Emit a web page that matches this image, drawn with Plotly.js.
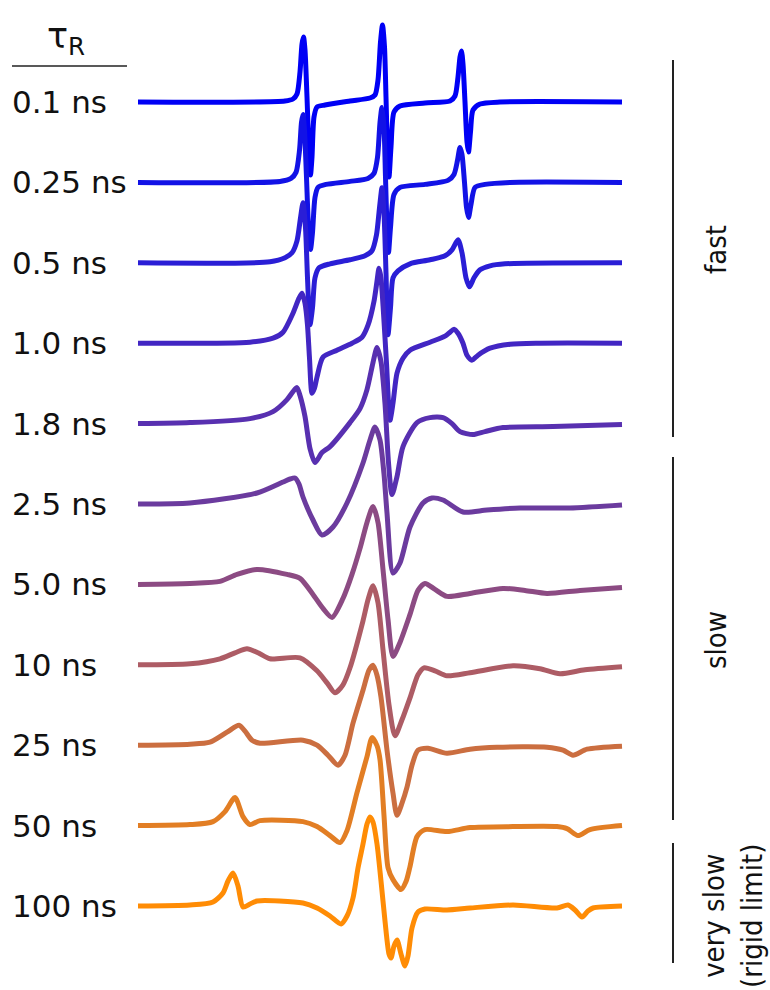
<!DOCTYPE html>
<html>
<head>
<meta charset="utf-8">
<script src="https://cdn.plot.ly/plotly-3.0.1.min.js"></script>
<style>html,body{margin:0;padding:0;background:#fff;}#chart{width:770px;height:990px;}</style>
</head>
<body>
<div id="chart"></div>
<script>
// Rotational correlation times (labels) and line colours
const labels = ["0.1 ns","0.25 ns","0.5 ns","1.0 ns","1.8 ns","2.5 ns","5.0 ns","10 ns","25 ns","50 ns","100 ns"];
const colors = ["#0000F5","#1212E6","#2A1ED6","#4226C3","#5830B0","#6B3B9E","#8C4B83","#AD5C65","#CB6E40","#E27E24","#FF8C05"];

// Field positions (a.u.) and derivative signal (a.u.), one pair per spectrum
const field_0p1 = [138,285,293,297,300,302,303.5,305,307,309,310.5,312,314,317,325,350,370,375,378,380.5,382.5,384.5,386,387.5,389,391,394,400,425,450,455,458,460,461.5,463,465,467,468.5,470.5,473,480,500,622];
const sig_0p1   = [0,1,3,8,30,58,65,52,5,-50,-73,-55,-15,-5,-3,1,4,7,22,60,77,55,5,-50,-75,-45,-10,-4,-1,1,6,25,45,51,38,0,-40,-50,-30,-8,-2,0,0];

const field_0p25 = [138,280,291,296,299.5,301.5,303,304.5,306.5,308.5,310.5,312.5,315,318,326,350,368,374,377.5,380,382,384,385.5,387,388.5,390.5,394,400,425,448,454,457.5,460,462,464.5,466.5,468.5,471,475,485,510,622];
const sig_0p25   = [0,1,4,10,32,60,68,52,5,-45,-67,-50,-15,-5,-2,1,4,9,25,60,75,55,5,-45,-70,-45,-12,-5,-2,2,8,22,35,28,0,-25,-35,-22,-5,-2,0,0];

const field_0p5 = [138,270,285,292,297,300.5,303,305.5,307.5,310,312.5,315,319,330,350,365,372,376.5,379.5,382,384,386,388,390.5,393,398,410,430,445,452,458,462,466,469.5,474,480,490,505,622];
const sig_0p5   = [0,1,5,10,22,45,60,35,-15,-62,-45,-15,-5,-1,3,7,12,28,55,75,50,-10,-72,-45,-15,-8,-1,3,7,13,23,10,-15,-24,-15,-7,-3,-1,0];

const field_1p0 = [138,250,273,283,293,299,302,305,307.5,309.5,312,314.5,317,323,337,352,362,368,374,377,379,381,383.5,386.5,390,393,397,403,410,430,445,450,454,458,463,467,472,478,490,510,540,622];
const sig_1p0   = [0,1,5,11,30,45,50,40,18,-15,-50,-45,-34,-14,-7,0,6,18,42,62,75,65,30,-20,-77,-60,-30,-15,-7,1,7,11,14,10,0,-12,-17,-12,-5,-1,0,0];

const field_1p8 = [138,190,250,273,287,293,297,300,305,310,315,322,330,350,360,367,373,377,381,385,388.5,392,397,403,417,430,443,452,460,473,485,503,553,622];
const sig_1p8   = [0,1,5,12,24,32,36,28,7,-25,-39,-29,-23,1,15,34,61,76,62,20,-39,-71,-53,-23,1,6,6,0,-8,-11,-8,-4,-3,-1];

const field_2p5 = [138,190,257,283,290,295,299,303,313,322,333,347,363,370,375,380,384,387,393,400,410,423,432,443,463,487,520,570,622];
const sig_2p5   = [0,1,11,22,25,26,20,7,-16,-31,-23,1,41,64,77,64,30,-9,-69,-59,-23,1,6,4,-8,-6,-4,-4,-1];

const field_5p0 = [138,190,220,237,257,287,300,313,323,332,343,352,360,367,373,378,383,388,393,400,410,418,425,435,447,470,503,525,547,580,622];
const sig_5p0   = [0,1,3,10,15,10,6,-10,-24,-33,-14,10,36,62,78,62,15,-35,-72,-58,-30,-6,1,-5,-12,-9,-4,-6,-9,-6,-3];

const field_10 = [138,190,220,235,247,258,270,300,317,327,335,343,350,363,368,373,378,383,389,395,402,410,418,424,435,447,470,513,540,560,585,622];
const sig_10   = [0,1,6,12,16,12,6,7,-6,-18,-28,-20,-3,44,65,79,62,15,-40,-71,-55,-33,-10,-3,-6,-11,-8,-1,-4,-9,-5,-2];

const field_25 = [138,190,210,227,239,245,252,260,303,317,328,338,345,353,363,369,373,377,381,387,393,397,402,407,412,418,428,447,470,497,547,563,573,587,622];
const sig_25   = [0,1,3,13,20,14,5,2,5,0,-10,-20,-10,22,55,75,80,70,48,-5,-48,-70,-58,-42,-20,-5,-3,-8,-4,-2,-2,-5,-10,-4,-1];

const field_50 = [138,190,213,225,235,243,250,260,303,317,330,340,347,357,367,372,377,380,384,388,393,401,406,410,417,425,447,470,513,557,567,578,590,622];
const sig_50   = [0,1,4,14,28,9,1,5,4,-1,-10,-17,-5,33,69,88,80,66,10,-42,-54,-64,-56,-41,-11,-4,-6,-2,-1,-1,-3,-10,-4,0];

const field_100 = [138,190,213,223,228,233,238,243,250,257,303,317,330,341,347,353,358,363,367,370,373,377,381,385,389,391,394,397,401,405,408,412,418,425,447,470,513,557,568,575,582,588,593,622];
const sig_100   = [0,1,4,13,25,33,20,-1,2,5,3,-2,-10,-18,-10,8,38,62,82,89,84,62,25,-15,-48,-52,-40,-34,-48,-60,-50,-22,-6,-3,-4,-2,1,-2,1,-4,-11,-5,-2,0];

const fields  = [field_0p1, field_0p25, field_0p5, field_1p0, field_1p8, field_2p5, field_5p0, field_10, field_25, field_50, field_100];
const signals = [sig_0p1, sig_0p25, sig_0p5, sig_1p0, sig_1p8, sig_2p5, sig_5p0, sig_10, sig_25, sig_50, sig_100];

const regimes = ["fast", "slow", "very slow<br>(rigid limit)"];

const spacing = 80.4; // vertical stacking offset between spectra

const data = fields.map((f, i) => ({
  x: f,
  y: signals[i].map(v => v - i * spacing),
  type: "scatter",
  mode: "lines",
  line: {color: colors[i], width: 5, shape: "spline", smoothing: 0.7},
  hoverinfo: "skip",
  showlegend: false
}));

const labelFont = {family: "DejaVu Sans, Verdana, sans-serif", size: 31, color: "#111"};
const sideFont = {family: "DejaVu Sans Condensed, Liberation Sans Narrow, sans-serif", size: 29, color: "#111"};

const annotations = labels.map((t, i) => ({
  text: t, xref: "paper", yref: "y", x: 10/770, y: -i * spacing,
  xanchor: "left", yanchor: "middle", showarrow: false, font: labelFont
}));
annotations.push({
  text: "τ<sub>R</sub>", xref: "paper", yref: "paper", x: 66/770, y: 1 - 38/990,
  xanchor: "center", yanchor: "middle", showarrow: false,
  font: {family: "DejaVu Sans, sans-serif", size: 35, color: "#111"}
});
annotations.push({text: regimes[0], xref: "paper", yref: "paper", x: 716/770, y: 1 - 250/990,
  textangle: -90, showarrow: false, xanchor: "center", yanchor: "middle", font: sideFont});
annotations.push({text: regimes[1], xref: "paper", yref: "paper", x: 716/770, y: 1 - 640/990,
  textangle: -90, showarrow: false, xanchor: "center", yanchor: "middle", font: sideFont});
annotations.push({text: regimes[2], xref: "paper", yref: "paper", x: 733/770, y: 1 - 916/990,
  textangle: -90, showarrow: false, xanchor: "center", yanchor: "middle", font: sideFont});

const lineStyle = {color: "#222", width: 2};
const shapes = [
  {type: "line", xref: "paper", yref: "paper", x0: 12/770, x1: 127/770, y0: 1 - 66/990, y1: 1 - 66/990, line: {color: "#222", width: 1.5}},
  {type: "line", xref: "paper", yref: "paper", x0: 673/770, x1: 673/770, y0: 1 - 60/990, y1: 1 - 437/990, line: lineStyle},
  {type: "line", xref: "paper", yref: "paper", x0: 673/770, x1: 673/770, y0: 1 - 457/990, y1: 1 - 820/990, line: lineStyle},
  {type: "line", xref: "paper", yref: "paper", x0: 673/770, x1: 673/770, y0: 1 - 843/990, y1: 1 - 963/990, line: lineStyle}
];

const layout = {
  width: 770, height: 990,
  margin: {l: 0, r: 0, t: 0, b: 0, pad: 0},
  paper_bgcolor: "#ffffff", plot_bgcolor: "#ffffff",
  xaxis: {range: [0, 770], visible: false, fixedrange: true},
  yaxis: {range: [-888, 102], visible: false, fixedrange: true},
  annotations: annotations,
  shapes: shapes,
  showlegend: false
};

Plotly.newPlot("chart", data, layout, {staticPlot: true, displayModeBar: false});
</script>
</body>
</html>
